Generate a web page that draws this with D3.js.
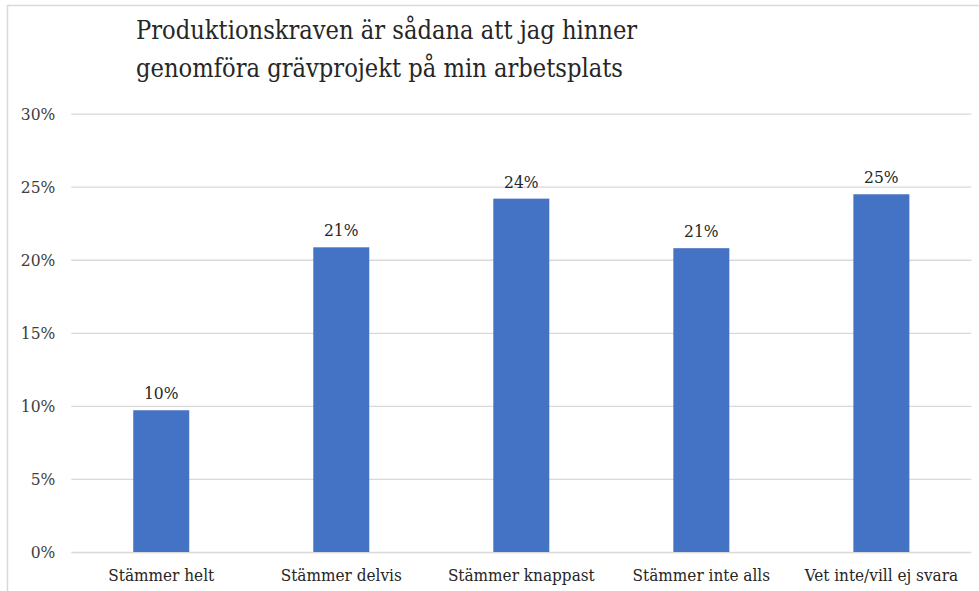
<!DOCTYPE html>
<html>
<head>
<meta charset="utf-8">
<script src="https://cdn.jsdelivr.net/npm/d3@7"></script>
<style>
  html, body { margin: 0; padding: 0; background: #fff; }
  svg text { font-family: "DejaVu Serif Condensed", "DejaVu Serif", serif; font-stretch: condensed; }
</style>
</head>
<body>
<div id="chart"></div>
<script>
// chart data
const titleLines = ["Produktionskraven är sådana att jag hinner", "genomföra grävprojekt på min arbetsplats"];
const categories = ["Stämmer helt", "Stämmer delvis", "Stämmer knappast", "Stämmer inte alls", "Vet inte/vill ej svara"];
const values = [0.097, 0.2085, 0.2418, 0.2079, 0.2448];
const valueLabels = ["10%", "21%", "24%", "21%", "25%"];
const yTicks = [0, 0.05, 0.10, 0.15, 0.20, 0.25, 0.30];

let svgWidth = 979;
let svgHeight = 591;

let margin = { top: 113.6, right: 7.7, bottom: 39, left: 71.3 };
let chartWidth = svgWidth - margin.left - margin.right;
let chartHeight = svgHeight - margin.top - margin.bottom;

let svg = d3.select("#chart")
  .append("svg")
  .attr("width", svgWidth)
  .attr("height", svgHeight);

// outer frame (top and left edges only are visible)
svg.append("path")
  .attr("d", `M7.5,${svgHeight} V5.5 H${svgWidth}`)
  .attr("fill", "none")
  .attr("stroke", "#d9d9d9")
  .attr("stroke-width", 1.5);

// title
svg.append("g")
  .selectAll("text")
  .data(titleLines)
  .enter()
  .append("text")
  .attr("x", 136)
  .attr("y", (d, i) => 39 + i * 38)
  .attr("font-size", 25.2)
  .attr("fill", "#262626")
  .text(d => d);

let chartGroup = svg.append("g")
  .attr("transform", `translate(${margin.left}, ${margin.top})`);

let xScale = d3.scaleBand()
  .domain(categories)
  .range([0, chartWidth])
  .paddingInner(0.689)
  .paddingOuter(0.344);

let yScale = d3.scaleLinear()
  .domain([0, 0.30])
  .range([chartHeight, 0]);

// gridlines + y labels
let leftAxis = d3.axisLeft(yScale)
  .tickValues(yTicks)
  .tickFormat(d3.format(".0%"))
  .tickSize(-chartWidth)
  .tickPadding(16);

let yAxisG = chartGroup.append("g").call(leftAxis);
yAxisG.select(".domain").remove();
yAxisG.selectAll(".tick line")
  .attr("stroke", "#d9d9d9")
  .attr("stroke-width", 1.3);
yAxisG.selectAll(".tick text")
  .attr("font-size", 17.3)
  .attr("fill", "#404040")
  .attr("font-family", null);

// x labels
let bottomAxis = d3.axisBottom(xScale)
  .tickSize(0)
  .tickPadding(17);

let xAxisG = chartGroup.append("g")
  .attr("transform", `translate(0, ${chartHeight})`)
  .call(bottomAxis);
xAxisG.select(".domain").remove();
xAxisG.selectAll(".tick text")
  .attr("font-size", 17)
  .attr("fill", "#262626")
  .attr("font-family", null);

// bars
chartGroup.append("g")
  .selectAll("rect")
  .data(values)
  .enter()
  .append("rect")
  .attr("x", (d, i) => xScale(categories[i]))
  .attr("y", d => yScale(d))
  .attr("width", xScale.bandwidth())
  .attr("height", d => chartHeight - yScale(d))
  .attr("fill", "#4472c4");

// value labels
chartGroup.append("g")
  .selectAll("text")
  .data(values)
  .enter()
  .append("text")
  .attr("x", (d, i) => xScale(categories[i]) + xScale.bandwidth() / 2)
  .attr("y", d => yScale(d) - 11)
  .attr("text-anchor", "middle")
  .attr("font-size", 17.3)
  .attr("fill", "#262626")
  .text((d, i) => valueLabels[i]);
</script>
</body>
</html>
